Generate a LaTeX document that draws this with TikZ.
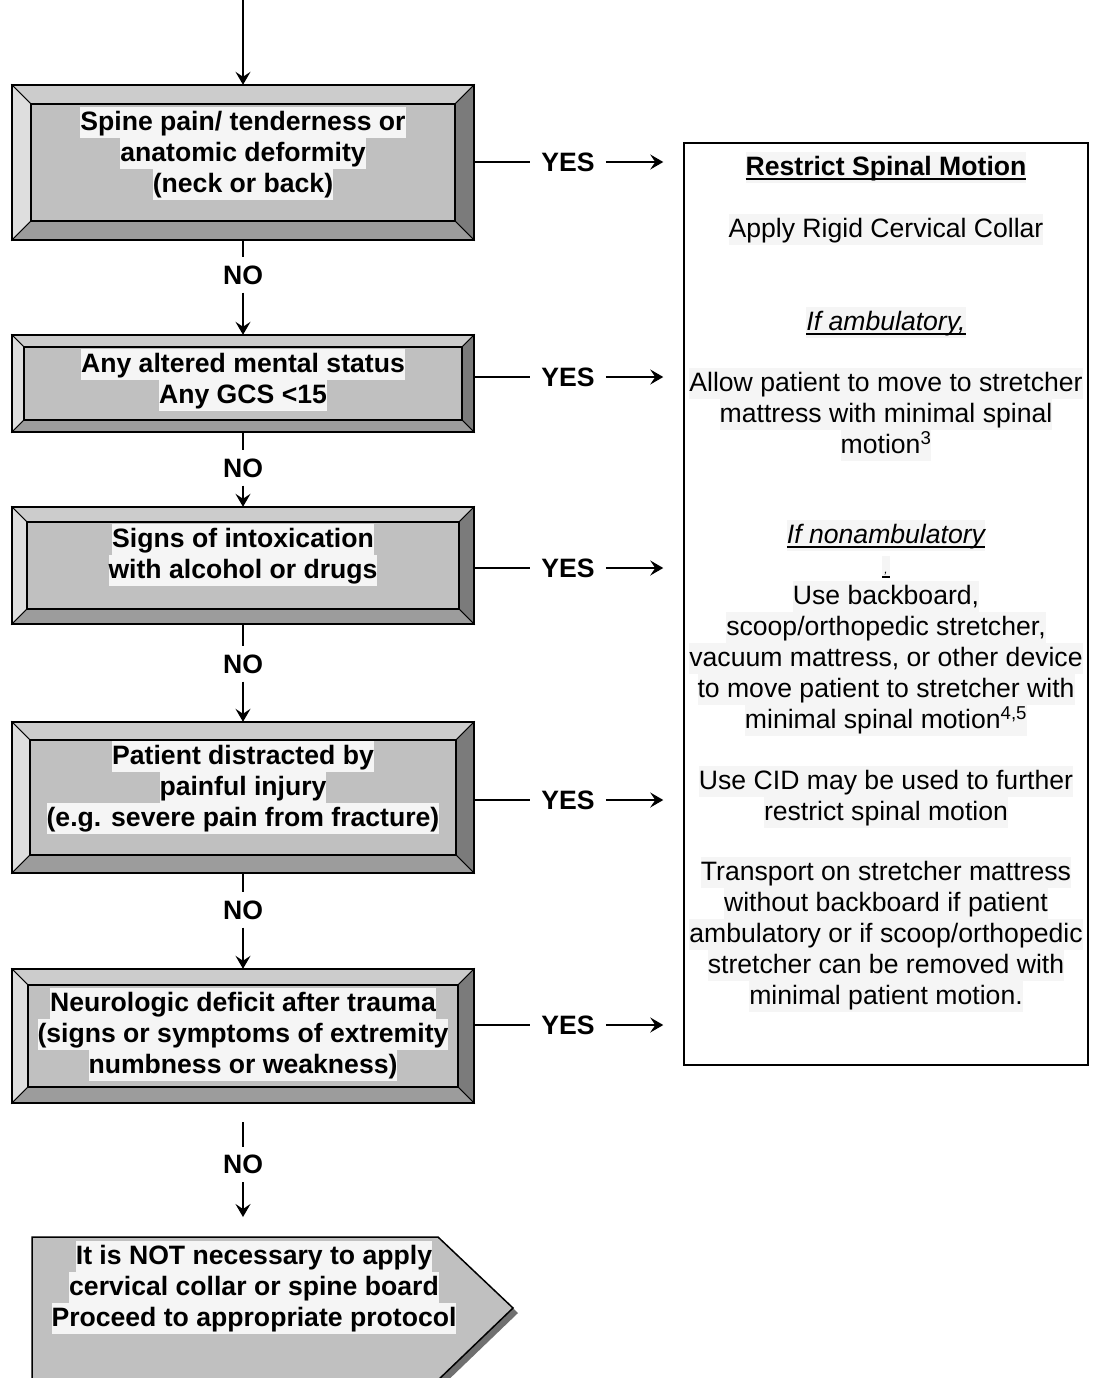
\documentclass[tikz,border=0pt]{standalone}
\usepackage{fontspec}
\setmainfont{Liberation Sans}
\usetikzlibrary{arrows.meta,calc}
\definecolor{facec}{HTML}{C0C0C0}
\definecolor{topc}{HTML}{CCCCCC}
\definecolor{leftc}{HTML}{DEDEDE}
\definecolor{rightc}{HTML}{7B7B7B}
\definecolor{botc}{HTML}{9C9C9C}
\definecolor{hlc}{HTML}{F5F5F5}
\definecolor{shadc}{HTML}{707070}
\newcommand\hlx[1]{{\setlength{\fboxsep}{0pt}\colorbox{hlc}{\rule[-7.5pt]{0pt}{31pt}#1}}}
\newcommand\ulx[1]{{\setbox0=\hbox{#1}\rlap{\rule[-4.5pt]{\wd0}{1.8pt}}\box0}}
\newcommand\bevelize[2]{%
  \path (#1.north west) coordinate (A) (#1.north east) coordinate (B)
        (#1.south east) coordinate (C) (#1.south west) coordinate (D);
  \path ($(A)+(#2,#2)$) coordinate (a) ($(B)+(-#2,#2)$) coordinate (b)
        ($(C)+(-#2,-#2)$) coordinate (c) ($(D)+(#2,-#2)$) coordinate (d);
  \filldraw[fill=topc,bevline] (A)--(B)--(b)--(a)--cycle;
  \filldraw[fill=leftc,bevline] (A)--(a)--(d)--(D)--cycle;
  \filldraw[fill=rightc,bevline] (B)--(C)--(c)--(b)--cycle;
  \filldraw[fill=botc,bevline] (D)--(d)--(c)--(C)--cycle;
  \draw[line width=1.8pt] (a) rectangle (c);
  \draw[line width=1.5pt] (A) rectangle (C);
}
\begin{document}
\begin{tikzpicture}[x=1pt,y=-1pt,
  bevline/.style={draw=black,line width=0.8pt},
  qbox/.style={rectangle,fill=facec,draw=none,inner sep=0pt,minimum width=462pt},
  qtext/.style={align=center,inner sep=0pt,font=\bfseries\fontsize{26.6}{31}\selectfont},
  rtext/.style={align=center,inner sep=0pt,font=\fontsize{26.6}{31}\selectfont},
  notext/.style={inner sep=0pt,minimum height=35pt,font=\bfseries\fontsize{26.6}{31}\selectfont},
  yestext/.style={inner ysep=0pt,inner xsep=11pt,font=\bfseries\fontsize{26.6}{31}\selectfont},
  conn/.style={line width=1.5pt},
  arr/.style={line width=1.5pt,-{Stealth[length=13pt,width=15pt,inset=5pt]}},
  rbox/.style={rectangle,draw=black,line width=1.5pt,fill=white,minimum width=404pt,minimum height=922pt,inner sep=0pt}
]
\clip (0,0) rectangle (1096,1378);
\fill[white] (0,0) rectangle (1096,1378);

% right box
\node[rbox] (rb) at (886,604) {};
\node[rtext] (r1) at (886,167) {\hlx{\bfseries\ulx{Restrict Spinal Motion}}};
\node[rtext] (r2) at (886,229) {\hlx{Apply Rigid Cervical Collar}};
\node[rtext] (r3) at (886,322) {\hlx{\itshape\ulx{If ambulatory,}}};
\node[rtext] (r4) at (886,414.5) {\hlx{Allow patient to move to stretcher}\\\hlx{mattress with minimal spinal}\\\hlx{motion\textsuperscript{3}}};
\node[rtext] (r5) at (886,535) {\hlx{\itshape\ulx{If nonambulatory}}};
\node[inner sep=0pt] (r6) at (886,567) {{\setlength{\fboxsep}{0pt}\colorbox{hlc}{\rule[-5pt]{0pt}{22pt}\fontsize{12}{14}\selectfont\itshape\ulx{\,,\,}}}};
\node[rtext] (r7) at (886,658.5) {\hlx{Use backboard,}\\\hlx{scoop/orthopedic stretcher,}\\\hlx{vacuum mattress, or other device}\\\hlx{to move patient to stretcher with}\\\hlx{minimal spinal motion\textsuperscript{4,5}}};
\node[rtext] (r8) at (886,796.5) {\hlx{Use CID may be used to further}\\\hlx{restrict spinal motion}};
\node[rtext] (r9) at (886,934.5) {\hlx{Transport on stretcher mattress}\\\hlx{without backboard if patient}\\\hlx{ambulatory or if scoop/orthopedic}\\\hlx{stretcher can be removed with}\\\hlx{minimal patient motion.}};

% question boxes
\node[qbox,minimum height=155pt] (b1) at (243,162.5) {};
\bevelize{b1}{19}
\node[qtext] (t1) at (243,153) {\hlx{Spine pain/ tenderness or}\\\hlx{anatomic deformity}\\\hlx{(neck or back)}};

\node[qbox,minimum height=97pt] (b2) at (243,383.5) {};
\bevelize{b2}{12}
\node[qtext] (t2) at (243,380) {\hlx{Any altered mental status}\\\hlx{Any GCS <15}};

\node[qbox,minimum height=117pt] (b3) at (243,565.5) {};
\bevelize{b3}{15}
\node[qtext] (t3) at (243,555) {\hlx{Signs of intoxication}\\\hlx{with alcohol or drugs}};

\node[qbox,minimum height=151pt] (b4) at (243,797.5) {};
\bevelize{b4}{18}
\node[qtext] (t4) at (243,787) {\hlx{Patient distracted by}\\\hlx{painful injury}\\\hlx{(e.g. severe pain from fracture)}};

\node[qbox,minimum height=134pt] (b5) at (243,1036) {};
\bevelize{b5}{16}
\node[qtext] (t5) at (243,1034) {\hlx{Neurologic deficit after trauma}\\\hlx{(signs or symptoms of extremity}\\\hlx{numbness or weakness)}};

% final pentagon arrow
\fill[shadc] (37,1242) -- (443,1242) -- (518,1313) -- (441,1387) -- (37,1387) -- cycle;
\filldraw[fill=facec,draw=black,line width=1.5pt] (32,1237) -- (438,1237) -- (513,1308) -- (436,1382) -- (32,1382) -- cycle;
\coordinate (ptop) at (243,1237);
\node[qtext] (t6) at (254,1287) {\hlx{It is NOT necessary to apply}\\\hlx{cervical collar or spine board}\\\hlx{Proceed to appropriate protocol}};

% entry arrow
\coordinate (start) at (243,0);
\draw[arr] (start) -- (b1.north);

% NO connectors
\node[notext] (n1) at (243,275) {NO};
\node[notext] (n2) at (243,468) {NO};
\node[notext] (n3) at (243,664) {NO};
\node[notext] (n4) at (243,910) {NO};
\node[notext] (n5) at (243,1164.5) {NO};
\draw[conn] (b1.south) -- (n1.north);
\draw[arr] (n1.south) -- (b2.north);
\draw[conn] (b2.south) -- (n2.north);
\draw[arr] (n2.south) -- (b3.north);
\draw[conn] (b3.south) -- (n3.north);
\draw[arr] (n3.south) -- (b4.north);
\draw[conn] (b4.south) -- (n4.north);
\draw[arr] (n4.south) -- (b5.north);
\draw[conn,shorten <=19pt] (b5.south) -- (n5.north);
\draw[arr,shorten >=20pt] (n5.south) -- (ptop);

% YES connectors
\foreach \i/\yy in {1/162,2/377,3/568,4/800,5/1025}{
  \node[yestext] (y\i) at (568,\yy) {YES};
  \draw[conn] (b\i.east |- y\i.west) -- (y\i.west);
  \draw[arr,shorten >=20pt] (y\i.east) -- (y\i.east -| rb.west);
}
\end{tikzpicture}
\end{document}
